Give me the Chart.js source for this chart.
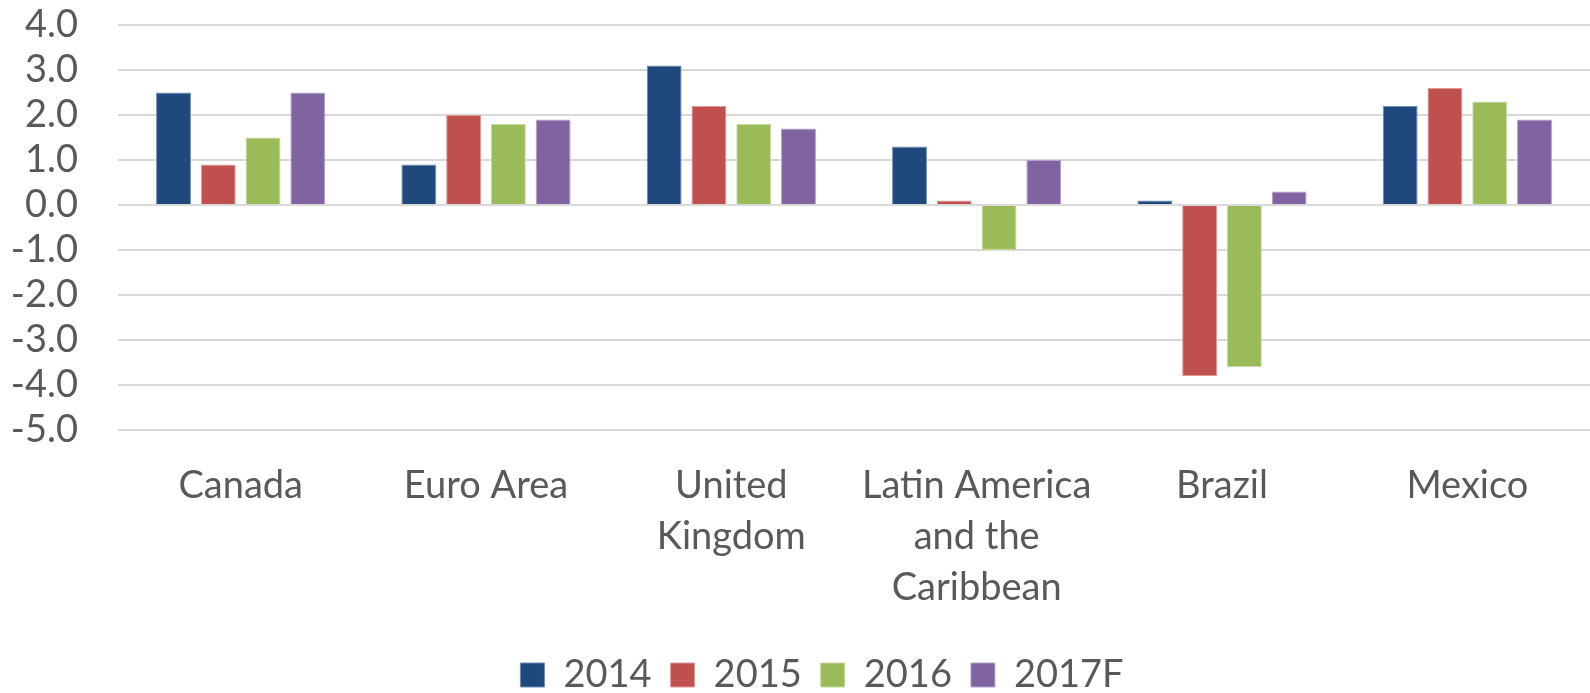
<!DOCTYPE html>
<html>
<head>
<meta charset="utf-8">
<script src="https://cdn.jsdelivr.net/npm/chart.js@4.4.1/dist/chart.umd.min.js"></script>
<style>
  html, body { margin: 0; padding: 0; background: #ffffff; overflow: hidden; }
  #wrap { width: 1590px; height: 693px; position: relative; }
</style>
</head>
<body>
<div id="wrap"><canvas id="c"></canvas></div>
<script>
const categories = ['Canada', 'Euro Area', ['United', 'Kingdom'], ['Latin America', 'and the', 'Caribbean'], 'Brazil', 'Mexico'];
const seriesNames = ['2014', '2015', '2016', '2017F'];
const values2014 = [2.5, 0.9, 3.1, 1.3, 0.1, 2.2];
const values2015 = [0.9, 2.0, 2.2, 0.1, -3.8, 2.6];
const values2016 = [1.5, 1.8, 1.8, -1.0, -3.6, 2.3];
const values2017F = [2.5, 1.9, 1.7, 1.0, 0.3, 1.9];
const yMin = -5, yMax = 4, yStep = 1;

const colors = ['#1F497D', '#C0504D', '#9BBB59', '#8064A2'];
const edgeColors = ['#6F8BB0', '#DC9A98', '#C6DAA0', '#B4A2CB'];
const allValues = [values2014, values2015, values2016, values2017F];

const FONT = 'Lato';
const TEXT = '#595959';

const legendShift = {
  id: 'legendShift',
  afterLayout(chart) {
    const lg = chart.legend;
    if (lg) { lg.left += 27; lg.right += 27; }
  }
};

const chart = new Chart(document.getElementById('c'), {
  type: 'bar',
  data: {
    labels: categories,
    datasets: seriesNames.map((name, i) => ({
      label: name,
      data: allValues[i],
      backgroundColor: colors[i],
      borderColor: edgeColors[i],
      borderWidth: 1,
      categoryPercentage: 0.73,
      barPercentage: 0.78
    }))
  },
  plugins: [legendShift],
  options: {
    responsive: true,
    maintainAspectRatio: false,
    animation: false,
    layout: { padding: { top: 25, left: 0, right: 0, bottom: -11 } },
    plugins: {
      tooltip: { enabled: false },
      legend: {
        position: 'bottom',
        labels: {
          color: TEXT,
          font: { family: FONT, size: 38 },
          boxWidth: 24,
          boxHeight: 24,
          padding: 19
        }
      }
    },
    scales: {
      x: {
        grid: { display: false, drawTicks: false },
        border: { display: false },
        ticks: {
          color: TEXT,
          font: { family: FONT, size: 38, lineHeight: 1.34 },
          maxRotation: 0,
          minRotation: 0,
          autoSkip: false,
          padding: 30
        },
        afterFit: (s) => { s.height = 207; }
      },
      y: {
        min: yMin,
        max: yMax,
        grid: { color: '#D9D9D9', lineWidth: 2, drawTicks: true, tickLength: 40, tickColor: 'rgba(0,0,0,0)' },
        border: { display: false },
        ticks: {
          stepSize: yStep,
          autoSkip: false,
          color: TEXT,
          font: { family: FONT, size: 38, lineHeight: 1 },
          padding: 0,
          callback: (v) => v.toFixed(1)
        },
        afterFit: (s) => { s.width = 118; }
      }
    }
  }
});
</script>
</body>
</html>
